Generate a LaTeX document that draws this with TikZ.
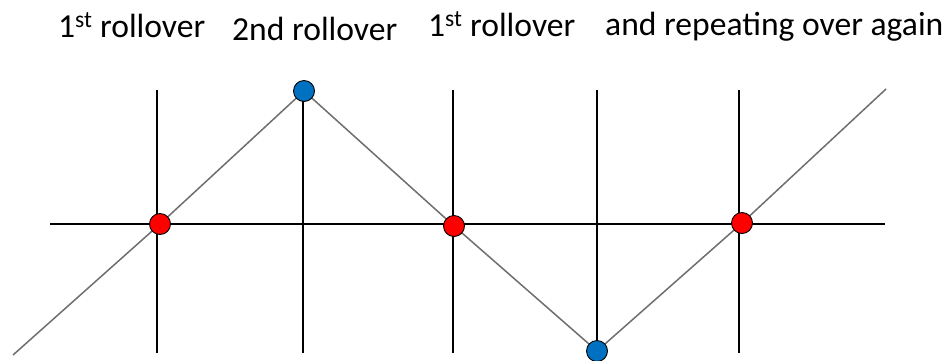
\documentclass[tikz,border=0pt]{standalone}
\usepackage{fontspec}
\setmainfont{Carlito}
\definecolor{dotred}{RGB}{255,0,0}
\definecolor{dotblue}{RGB}{0,112,192}
\definecolor{diag}{RGB}{110,110,110}
\begin{document}
\begin{tikzpicture}[x=1pt,y=-1pt,
  axis/.style={draw=black,line width=1.6pt},
  zig/.style={draw=diag,line width=1.5pt},
  dot/.style={circle,draw=black,line width=0.9pt,minimum size=21pt,inner sep=0pt},
  lab/.style={anchor=base west,inner sep=0pt,font=\fontsize{33.6}{40}\selectfont}]
\useasboundingbox (0,0) rectangle (950,360);
% labels
\node[lab] (t1) at (58,37) {1\textsuperscript{st} rollover};
\node[lab] (t2) at (232,40) {2nd rollover};
\node[lab] (t3) at (428,36) {1\textsuperscript{st} rollover};
\node[lab] (t4) at (605,35) {and repeating over again};
% axis coordinates
\coordinate (hl) at (50,224);
\coordinate (hr) at (885,224);
\coordinate (v1t) at (157,90); \coordinate (v1b) at (157,353);
\coordinate (v2t) at (303,90); \coordinate (v2b) at (303,353);
\coordinate (v3t) at (453,90); \coordinate (v3b) at (453,353);
\coordinate (v4t) at (597,90); \coordinate (v4b) at (597,353);
\coordinate (v5t) at (739,90); \coordinate (v5b) at (739,353);
% zigzag points
\coordinate (z0) at (13,355);
\coordinate (p1) at (160,224);
\coordinate (p2) at (304,91);
\coordinate (p3) at (454,226);
\coordinate (p4) at (597,351);
\coordinate (p5) at (742,223);
\coordinate (z6) at (886,89);
% lines
\draw[axis] (hl) -- (hr);
\foreach \i in {1,...,5} {\draw[axis] (v\i t) -- (v\i b);}
\draw[zig] (z0) -- (p1) -- (p2) -- (p3) -- (p4) -- (p5) -- (z6);
% dots
\node[dot,fill=dotred] (d1) at (p1) {};
\node[dot,fill=dotblue] (d2) at (p2) {};
\node[dot,fill=dotred] (d3) at (p3) {};
\node[dot,fill=dotblue] (d4) at (p4) {};
\node[dot,fill=dotred] (d5) at (p5) {};
\end{tikzpicture}
\end{document}
